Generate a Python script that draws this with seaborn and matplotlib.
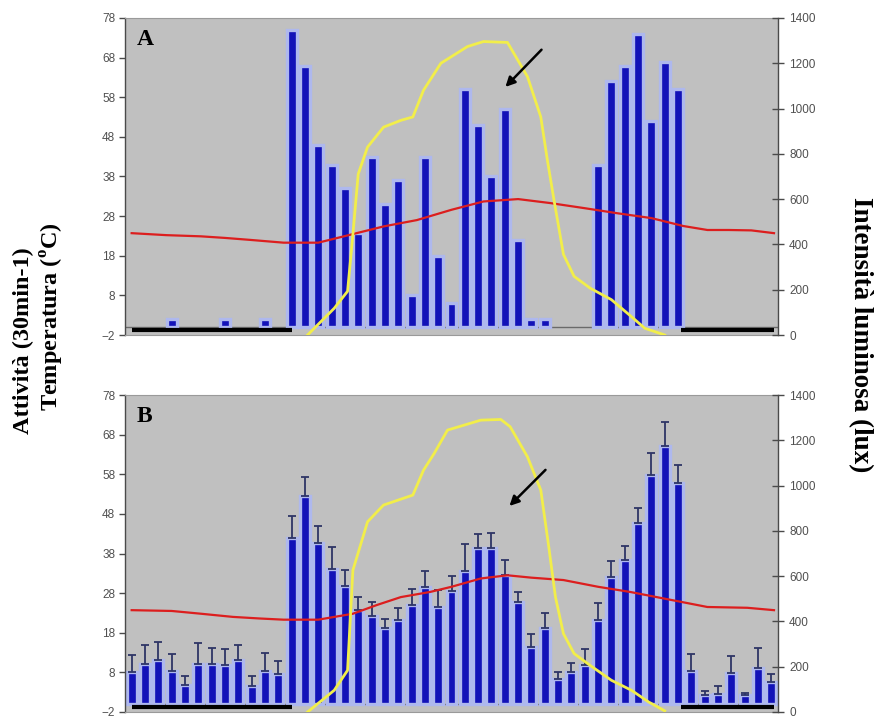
import numpy as np
import pandas as pd
import matplotlib
matplotlib.use("Agg")
import matplotlib.pyplot as plt
import seaborn as sns

# ---------------- data ----------------
slots = list(range(49))  # half-hour slots, 0:00 .. 24:00

act_A = [0, 0, 0, 2, 0, 0, 0, 2, 0, 0, 2, 0,
         75, 66, 46, 41, 35, 23.7, 43, 31, 37, 8, 43, 18,
         6, 60, 51, 38, 55, 22, 2, 2, 0, 0, 0, 41,
         62, 66, 74, 52, 67, 60, 0, 0, 0, 0, 0, 0, 0]

act_B = [8, 10, 11, 8.3, 4.7, 10, 10.2, 9.8, 11, 4.6, 8.3, 7.7,
         42, 52.5, 40.7, 34.2, 29.8, 23.7, 22.3, 19.1, 21.2, 25, 29.6, 24.5,
         28.6, 33.5, 39.5, 39.5, 32.5, 25.8, 14.4, 19.1, 6.4, 8.1, 9.8, 21.3,
         32.1, 36.3, 45.6, 57.8, 65.2, 55.9, 8.3, 2.2, 2.6, 7.9, 2.2, 9.2, 5.6]

err_B = [4.5, 5, 4.6, 4.3, 2.4, 5.5, 4, 4, 4, 2.5, 4.7, 3.1,
         5.5, 4.7, 4.2, 5.5, 4, 3.2, 3.5, 2.4, 3, 4, 4, 4.4,
         3.8, 6.9, 3.4, 3.7, 3.8, 2.5, 3.2, 4, 1.7, 2.3, 4, 4.3,
         4, 3.6, 3.9, 5.6, 6.1, 4.4, 4.3, 1, 2, 4.3, 0.7, 5, 1.9]

temp_hours_A = [0.0, 1.3, 2.6, 3.5, 4.45, 5.7, 7.0, 8.2, 9.45, 10.7, 12.0,
                13.2, 14.5, 15.7, 17.0, 18.25, 19.5, 20.7, 21.6, 22.4, 23.25, 24.1]
temp_A = [23.7, 23.2, 22.9, 22.5, 22.0, 21.3, 21.3, 23.3, 25.4, 27.0, 29.6,
          31.7, 32.3, 31.3, 30.0, 28.7, 27.5, 25.5, 24.5, 24.5, 24.4, 23.7]

temp_hours_B = [0.0, 1.5, 2.6, 3.8, 4.8, 5.7, 7.0, 8.3, 9.2, 10.1, 11.2,
                12.0, 13.1, 14.1, 15.0, 16.2, 17.5, 18.7, 20.0, 21.6, 23.1, 24.1]
temp_B = [23.7, 23.5, 22.8, 22.0, 21.6, 21.3, 21.3, 22.8, 25.0, 27.0, 28.3,
          29.6, 31.7, 32.5, 31.9, 31.3, 29.6, 28.3, 26.6, 24.5, 24.3, 23.7]

light_hours_A = [6.6, 7.6, 8.1, 8.3, 8.5, 8.85, 9.45, 10.1, 10.55, 10.95, 11.6,
                 12.6, 13.2, 14.1, 14.85, 15.35, 15.6, 15.85, 16.2, 16.6, 17.2,
                 18.0, 18.75, 19.25, 20.0]
light_A = [0, 118, 193, 444, 711, 830, 918, 948, 963, 1081, 1200,
           1274, 1296, 1292, 1141, 963, 770, 593, 356, 259, 207,
           156, 81, 30, 0]

light_hours_B = [6.6, 7.6, 8.1, 8.3, 8.85, 9.45, 10.55, 10.95, 11.35, 11.85, 13.1,
                 13.85, 14.2, 14.85, 15.35, 15.65, 15.9, 16.2, 16.6, 17.2, 18.0,
                 18.75, 19.4, 20.0]
light_B = [0, 96, 184, 626, 840, 914, 958, 1068, 1142, 1245, 1289,
           1292, 1260, 1127, 980, 729, 508, 346, 258, 206, 140,
           96, 44, 5]

night_start = [0.0, 20.6]
night_end = [6.0, 24.1]

left_ticks = [-2, 8, 18, 28, 38, 48, 58, 68, 78]
right_ticks = [0, 200, 400, 600, 800, 1000, 1200, 1400]

# ---------------- style ----------------
DARK = "#1212B8"
HALO = "#AEB8EE"
BG = "#C0C0C0"
AXC = "#4A4A4A"
TICKC = "#505050"
SERIF = ["Liberation Serif", "DejaVu Serif"]
SANS = ["Liberation Sans", "DejaVu Sans"]

fig = plt.figure(figsize=(8.75, 7.2), dpi=100)
fig.patch.set_facecolor("white")

L, W, H = 125 / 875, 653 / 875, 317 / 720
axA = fig.add_axes([L, 1 - 335 / 720, W, H])
axB = fig.add_axes([L, 1 - 712 / 720, W, H])


def draw(ax, acts, t_h, temp, l_h, light, letter, arrow, errs=None):
    ax.set_facecolor(BG)
    df = pd.DataFrame({"slot": slots, "act": acts})
    sns.barplot(data=df, x="slot", y="act", order=slots, color=DARK,
                saturation=1, width=0.75, edgecolor=HALO, linewidth=2.4,
                ax=ax, zorder=2)
    for p in ax.patches:
        if p.get_height() == 0:
            p.set_visible(False)
    if errs is not None:
        pos = np.arange(len(slots))
        ax.errorbar(pos, acts, yerr=[np.zeros(len(errs)), errs], fmt="none",
                    ecolor="#2E3566", elinewidth=1.3, capsize=3, capthick=1.3,
                    zorder=3)
    ax.axhline(0, color="#6A6A6A", lw=1.0, zorder=1.5)
    ns = np.array(night_start) * 2
    ne = np.array(night_end) * 2
    ax.hlines(np.full(len(ns), -0.8), ns, ne, color="black", lw=3, zorder=3)
    sns.lineplot(x=np.array(t_h) * 2, y=temp, ax=ax, color="#DC1E1E",
                 lw=1.6, zorder=4)
    ax.set_xlim(-0.5, 48.5)
    ax.set_ylim(-2, 78)
    ax.set_yticks(left_ticks)
    ax.set_xticks([])
    ax.set_xlabel("")
    ax.set_ylabel("")
    ax.tick_params(axis="y", direction="out", length=4, width=1, color=AXC,
                   labelcolor=TICKC, labelsize=8.5, pad=3)
    for lab in ax.get_yticklabels():
        lab.set_family(SANS)
    ax.spines["left"].set_color(AXC)
    ax.spines["left"].set_linewidth(1.0)
    ax.spines["right"].set_visible(False)
    for s in ("top", "bottom"):
        ax.spines[s].set_color("#9A9A9A")
        ax.spines[s].set_linewidth(0.8)

    tw = ax.twinx()
    sns.lineplot(x=np.array(l_h) * 2, y=light, ax=tw, color="#F2EE4A",
                 lw=2.0, zorder=5)
    tw.set_ylim(0, 1400)
    tw.set_yticks(right_ticks)
    tw.set_ylabel("")
    tw.tick_params(axis="y", direction="inout", length=8, width=1, color=AXC,
                   labelcolor=TICKC, labelsize=8.5, pad=4)
    for lab in tw.get_yticklabels():
        lab.set_family(SANS)
    for s in ("top", "bottom", "left"):
        tw.spines[s].set_visible(False)
    tw.spines["right"].set_color(AXC)
    tw.spines["right"].set_linewidth(1.0)

    tw.annotate("", xy=arrow[0], xytext=arrow[1], xycoords=ax.transData,
                textcoords=ax.transData,
                arrowprops=dict(arrowstyle="-|>", color="black", lw=1.8,
                                mutation_scale=14), zorder=6)
    ax.text(0.018, 0.965, letter, transform=ax.transAxes, ha="left", va="top",
            fontsize=17, fontweight="bold", family=SERIF, zorder=6)


draw(axA, act_A, temp_hours_A, temp_A, light_hours_A, light_A, "A",
     ((27.9, 60.1), (30.9, 70.5)))
draw(axB, act_B, temp_hours_B, temp_B, light_hours_B, light_B, "B",
     ((28.2, 49.5), (31.2, 59.6)), errs=err_B)

fig.text(23 / 875, 1 - 341 / 720, "Attività (30min-1)", rotation=90,
         ha="center", va="center", fontsize=17.5, fontweight="bold", family=SERIF)
fig.text(52 / 875, 1 - 317 / 720, r"Temperatura ($^{\mathregular{o}}$C)",
         rotation=90, ha="center", va="center", fontsize=17.5,
         fontweight="bold", family=SERIF)
fig.text(860 / 875, 1 - 335 / 720, "Intensità luminosa (lux)", rotation=270,
         ha="center", va="center", fontsize=19.5, fontweight="bold", family=SERIF)

fig.savefig("out.png", dpi=100)
